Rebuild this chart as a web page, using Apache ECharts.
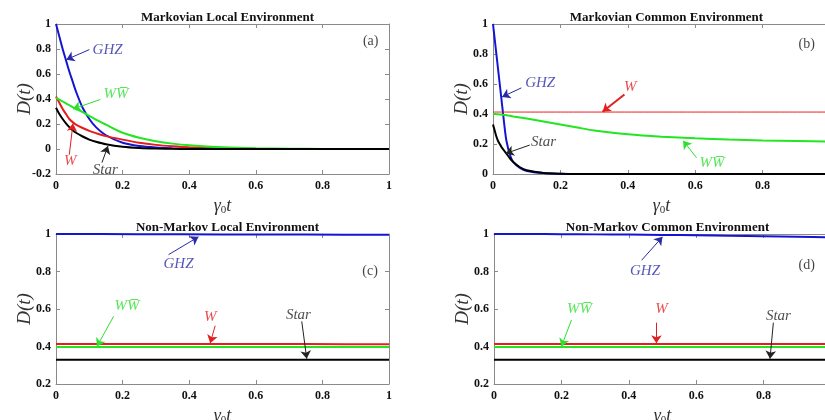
<!DOCTYPE html>
<html><head><meta charset="utf-8">
<script src="https://cdn.jsdelivr.net/npm/echarts@6/dist/echarts.min.js"></script>
<style>html,body{margin:0;padding:0;background:#fff}#c{width:825px;height:420px}</style>
</head><body><div id="c"></div>
<script>
// ---------------- data ----------------
const titles = ['Markovian Local Environment','Markovian Common Environment','Non-Markov Local Environment','Non-Markov Common Environment'];
const panelTags = ['(a)','(b)','(c)','(d)'];
const xTicks = [0,0.2,0.4,0.6,0.8,1];

// (a) Markovian local
const tA    = [0,0.01,0.02,0.03,0.04,0.05,0.06,0.08,0.1,0.12,0.15,0.2,0.25,0.3,0.35,0.4,0.5,0.6,0.7,0.8,0.9,1];
const ghzA  = [1,0.9,0.8,0.71,0.62,0.54,0.46,0.33,0.24,0.175,0.11,0.05,0.024,0.012,0.006,0.003,0.001,0,0,0,0,0];
const wA    = [0.42,0.37,0.32,0.28,0.24,0.215,0.195,0.168,0.145,0.127,0.103,0.075,0.05,0.033,0.022,0.014,0.006,0.002,0,0,0,0];
const wwA   = [0.41,0.395,0.38,0.365,0.35,0.335,0.32,0.295,0.265,0.235,0.195,0.13,0.09,0.062,0.043,0.03,0.014,0.006,0.003,0.001,0,0];
const starA = [0.33,0.28,0.24,0.205,0.175,0.15,0.13,0.1,0.075,0.058,0.038,0.018,0.008,0.003,0.001,0,0,0,0,0,0,0];

// (b) Markovian common
const tB    = [0,0.005,0.01,0.015,0.02,0.025,0.03,0.035,0.04,0.05,0.06,0.08,0.1,0.15,0.2,0.25,0.3,0.4,0.5,0.6,0.7,0.8,0.9,1];
const ghzB  = [1,0.9,0.8,0.7,0.6,0.5,0.4,0.3,0.22,0.13,0.08,0.04,0.02,0.006,0.002,0,0,0,0,0,0,0,0,0];
const wB    = [0.413,0.413,0.413,0.413,0.413,0.413,0.413,0.413,0.413,0.413,0.413,0.413,0.413,0.413,0.413,0.413,0.413,0.413,0.413,0.413,0.413,0.413,0.413,0.413];
const wwB   = [0.4,0.4,0.399,0.398,0.397,0.396,0.395,0.393,0.392,0.388,0.384,0.377,0.37,0.35,0.33,0.31,0.29,0.265,0.249,0.238,0.23,0.224,0.22,0.216];
const starB = [0.33,0.29,0.25,0.22,0.2,0.18,0.165,0.15,0.135,0.105,0.08,0.045,0.025,0.007,0.002,0,0,0,0,0,0,0,0,0];

// (c) Non-Markov local
const tC    = [0,0.25,0.5,0.75,1];
const ghzC  = [1,0.999,0.998,0.997,0.996];
const wC    = [0.413,0.413,0.413,0.413,0.412];
const wwC   = [0.397,0.397,0.397,0.397,0.397];
const starC = [0.33,0.33,0.33,0.33,0.33];

// (d) Non-Markov common
const tD    = [0,0.1,0.2,0.3,0.4,0.5,0.6,0.7,0.8,0.9,1];
const ghzD  = [1,1,0.999,0.998,0.997,0.995,0.993,0.99,0.988,0.985,0.982];
const wD    = [0.413,0.413,0.413,0.413,0.413,0.413,0.413,0.413,0.413,0.413,0.413];
const wwD   = [0.397,0.397,0.397,0.397,0.397,0.397,0.397,0.397,0.397,0.397,0.397];
const starD = [0.33,0.33,0.33,0.33,0.33,0.33,0.33,0.33,0.33,0.33,0.33];

// annotation anchors (data coordinates): label centre, arrow start, arrow tip
const annA = [
  {key:'GHZ', text:'GHZ', at:[0.155,0.795], from:[0.1,0.795], to:[0.031,0.715]},
  {key:'WW',  text:'WW\u0305', at:[0.18,0.44], from:[0.133,0.396], to:[0.051,0.32]},
  {key:'W',   text:'W',   at:[0.043,-0.1], from:[0.04,-0.045], to:[0.051,0.205]},
  {key:'Star',text:'Star',at:[0.148,-0.168], from:[0.138,-0.109], to:[0.156,0.024]}
];
const annB = [
  {key:'GHZ', text:'GHZ', at:[0.14,0.608], from:[0.084,0.574], to:[0.027,0.514]},
  {key:'W',   text:'W',   at:[0.407,0.582], from:[0.39,0.53], to:[0.325,0.415]},
  {key:'Star',text:'Star',at:[0.15,0.213], from:[0.109,0.193], to:[0.038,0.137]},
  {key:'WW',  text:'WW\u0305', at:[0.65,0.071], from:[0.604,0.109], to:[0.564,0.222]}
];
const annC = [
  {key:'GHZ', text:'GHZ', at:[0.368,0.84], from:[0.338,0.89], to:[0.428,0.985]},
  {key:'WW',  text:'WW\u0305', at:[0.213,0.618], from:[0.173,0.561], to:[0.123,0.4]},
  {key:'W',   text:'W',   at:[0.463,0.557], from:[0.478,0.511], to:[0.463,0.418]},
  {key:'Star',text:'Star',at:[0.728,0.57], from:[0.738,0.534], to:[0.753,0.335]}
];
const annD = [
  {key:'GHZ', text:'GHZ', at:[0.448,0.8], from:[0.438,0.86], to:[0.5,0.985]},
  {key:'WW',  text:'WW\u0305', at:[0.254,0.6], from:[0.23,0.542], to:[0.2,0.4]},
  {key:'W',   text:'W',   at:[0.497,0.598], from:[0.482,0.527], to:[0.482,0.418]},
  {key:'Star',text:'Star',at:[0.844,0.56], from:[0.829,0.527], to:[0.819,0.335]}
];
const tagPos = [[0.945,0.86],[0.931,0.866],[0.943,0.8],[0.928,0.835]];

// ---------------- styling / layout ----------------
const serif = '"Liberation Serif","Times New Roman",serif';
const lineColor = {GHZ:'#1414d2', W:'#e81c1c', WW:'#22e622', Star:'#000000'};
const textColor = {GHZ:'#2a2aa8', W:'#e02020', WW:'#2ee02e', Star:'#222222'};
const grids = [
  {left:56, width:333, top:24, height:150},
  {left:493, width:337, top:24, height:150},
  {left:56, width:333, top:234, height:150},
  {left:494, width:337, top:234, height:150}
];
const yRanges = [[-0.2,1],[0,1],[0.2,1],[0.2,1]];
const panels = [
  {t:tA, s:{GHZ:ghzA, W:wA, WW:wwA, Star:starA}, ann:annA, wW:2},
  {t:tB, s:{GHZ:ghzB, W:wB, WW:wwB, Star:starB}, ann:annB, wW:1},
  {t:tC, s:{GHZ:ghzC, W:wC, WW:wwC, Star:starC}, ann:annC, wW:2},
  {t:tD, s:{GHZ:ghzD, W:wD, WW:wwD, Star:starD}, ann:annD, wW:2}
];

const axisGray = '#8a8a8a';
const option = {animation:false, backgroundColor:'#fff', title:[], grid:[], xAxis:[], yAxis:[], series:[]};

grids.forEach((g,k)=>{
  option.grid.push(Object.assign({containLabel:false, outerBoundsMode:'none'}, g));
  const cx = g.left + g.width/2;
  option.title.push({text:titles[k], left:cx, top:g.top-18, textAlign:'center',
    textStyle:{fontFamily:serif, fontWeight:'bold', fontSize:13, color:'#111'}});
  const base = {type:'value', min:0, max:1, interval:0.2, gridIndex:k,
    splitLine:{show:false},
    axisLine:{show:true, onZero:false, lineStyle:{color:axisGray, width:1}},
    axisTick:{show:true, inside:true, length:4, lineStyle:{color:axisGray}}};
  option.xAxis.push(Object.assign({}, base, {position:'bottom',
    axisLabel:{fontFamily:serif, fontWeight:'bold', fontSize:12, color:'#111', margin:6},
    name:'{g|\u03b3}{s|0}{g|t}', nameLocation:'middle', nameGap:22, nameMoveOverlap:false,
    nameTextStyle:{rich:{g:{fontFamily:serif, fontStyle:'italic', fontSize:18, color:'#333'},
                         s:{fontFamily:serif, fontSize:11, color:'#333', padding:[9,0,0,0]}}}}));
  option.xAxis.push(Object.assign({}, base, {position:'top', axisLabel:{show:false}}));
  const yb = {type:'value', min:yRanges[k][0], max:yRanges[k][1], interval:0.2, gridIndex:k,
    splitLine:{show:false},
    axisLine:{show:true, onZero:false, lineStyle:{color:axisGray, width:1}},
    axisTick:{show:true, inside:true, length:4, lineStyle:{color:axisGray}}};
  option.yAxis.push(Object.assign({}, yb, {position:'left',
    axisLabel:{fontFamily:serif, fontWeight:'bold', fontSize:12, color:'#111', margin:5},
    name:'D(t)', nameLocation:'middle', nameGap:22, nameRotate:90, nameMoveOverlap:false,
    nameTextStyle:{fontFamily:serif, fontStyle:'italic', fontSize:19, color:'#333'}}));
  option.yAxis.push(Object.assign({}, yb, {position:'right', axisLabel:{show:false}}));

  const p = panels[k];
  ['GHZ','W','WW','Star'].forEach(key=>{
    option.series.push({type:'line', name:key, xAxisIndex:2*k, yAxisIndex:2*k,
      data:p.t.map((t,i)=>[t,p.s[key][i]]), symbol:'none', smooth:0.25, clip:true,
      lineStyle:{color:lineColor[key], width:key==='W'?p.wW:2}, z:3});
  });
  const labelData = p.ann.map(a=>({value:a.at, label:{formatter:a.text, color:textColor[a.key]}}));
  labelData.push({value:tagPos[k], label:{formatter:panelTags[k], color:'#111', fontStyle:'normal', fontSize:14}});
  option.series.push({type:'scatter', xAxisIndex:2*k, yAxisIndex:2*k, symbolSize:0, silent:true, z:5,
    data:labelData,
    label:{show:true, position:'inside', fontFamily:serif, fontStyle:'italic', fontSize:15},
    markLine:{silent:true, symbol:['none','arrow'], symbolSize:8, animation:false,
      label:{show:false},
      data:p.ann.map(a=>[{coord:a.from, lineStyle:{color:textColor[a.key], width:a.key==='W'&&k===1?2:1, type:'solid'}},{coord:a.to}])}
  });
});

const chart = echarts.init(document.getElementById('c'), null, {renderer:'canvas'});
chart.setOption(option);
</script>
</body></html>
